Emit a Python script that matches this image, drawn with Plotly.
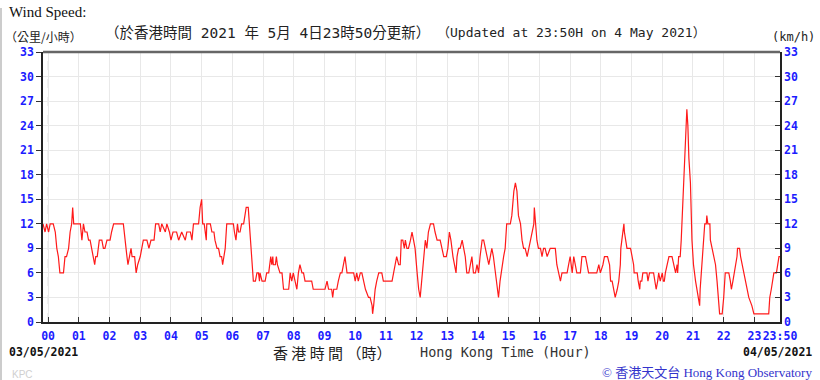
import plotly.graph_objects as go

# ---- data: minutes after 00:00 HKT on 4 May 2021 (negative = 3 May) and 10-min mean wind speed (km/h)
mins_night = [-10, -6, -3, 1, 4, 10, 14, 17, 20, 22, 23, 30, 33, 36, 40, 43, 46, 48, 50, 63,
              66, 69, 72, 76, 79, 82, 85, 89, 91, 93, 96, 100, 105, 108, 111, 115, 121, 124, 128, 147,
              150, 154, 156, 159, 162, 164, 169, 172, 175, 180, 183, 186, 193, 197, 201, 207, 210, 216, 219, 222,
              229, 232, 237, 240, 244, 251, 255, 261, 268, 271, 278, 281, 284, 294]
spd_night = [12, 11, 12, 11, 12, 12, 11, 9, 8, 7, 6, 6, 8, 8, 9, 11, 12, 14, 12, 12,
             10, 12, 11, 11, 10, 10, 9, 8, 7, 8, 8, 10, 10, 9, 9, 10, 10, 11, 12, 12,
             10, 8, 7, 8, 9, 8, 8, 6, 7, 8, 9, 10, 10, 9, 10, 10, 12, 12, 11, 12,
             11, 12, 11, 10, 11, 11, 10, 11, 10, 11, 11, 10, 12, 12]

mins_morning = [297, 300, 302, 305, 309, 310, 317, 320, 324, 326, 330, 333, 336, 339, 341, 344, 346, 349, 362, 364,
                367, 370, 372, 375, 378, 382, 385, 387, 391, 393, 396, 398, 400, 401, 405, 408, 411, 413, 414, 418,
                424, 427, 431, 433, 435, 437, 439, 440, 444, 446, 448, 453, 457, 460, 470, 473, 476, 479, 483, 486,
                489, 492, 496, 499, 502, 515, 518, 541, 545, 548, 554, 556, 558, 564, 567, 571, 574, 577, 580, 584,
                597, 600, 603, 606, 610, 613, 616, 620, 626, 629, 633, 634, 636, 639, 642, 646, 652, 655, 672, 675,
                678, 681, 685]
spd_morning = [14, 15, 12, 12, 10, 12, 12, 11, 11, 10, 9, 9, 8, 8, 7, 8, 9, 12, 12, 11,
               10, 12, 11, 11, 12, 12, 13, 14, 14, 12, 9, 7, 6, 5, 5, 6, 6, 5, 6, 5,
               5, 6, 6, 7, 8, 7, 8, 7, 7, 8, 7, 6, 6, 4, 4, 6, 5, 6, 5, 4,
               6, 7, 6, 6, 5, 5, 4, 4, 5, 4, 4, 3, 4, 4, 5, 6, 6, 7, 8, 6,
               6, 5, 6, 5, 6, 6, 5, 4, 3, 3, 2, 1, 2, 4, 5, 6, 6, 5, 5, 6,
               7, 8, 7]

mins_afternoon = [688, 690, 693, 696, 698, 701, 704, 708, 711, 714, 717, 721, 724, 727, 730, 734, 737, 740, 743, 747,
                  753, 756, 760, 766, 769, 773, 778, 781, 784, 787, 791, 794, 797, 799, 802, 805, 809, 812, 815, 818,
                  822, 825, 828, 831, 835, 838, 841, 844, 848, 851, 854, 857, 861, 864, 867, 870, 874, 877, 880, 883,
                  887, 890, 893, 896, 903, 906, 910, 913, 916, 919, 923, 926, 929, 932, 936, 939, 942, 945, 949, 950,
                  952, 955, 958, 962, 965, 968, 971, 975, 981, 991, 994, 997, 1001, 1004, 1007, 1014, 1017, 1020, 1024, 1027,
                  1030, 1033, 1040, 1043, 1050, 1053, 1056, 1072, 1076]
spd_afternoon = [7, 10, 10, 9, 10, 9, 9, 10, 11, 10, 9, 6, 4, 3, 5, 8, 10, 9, 11, 12,
                 12, 11, 10, 10, 9, 8, 8, 9, 11, 10, 8, 7, 6, 8, 9, 9, 10, 9, 8, 6,
                 6, 7, 8, 6, 6, 7, 6, 8, 10, 10, 9, 8, 7, 8, 9, 8, 6, 4, 3, 5,
                 7, 8, 9, 12, 12, 13, 16, 17, 16, 13, 12, 10, 9, 9, 8, 9, 10, 11, 12, 14,
                 12, 10, 9, 9, 8, 9, 9, 8, 9, 9, 7, 6, 5, 6, 6, 6, 7, 8, 6, 8,
                 7, 6, 6, 8, 8, 7, 6, 6, 7]

mins_evening = [1079, 1084, 1087, 1093, 1097, 1099, 1102, 1105, 1108, 1112, 1115, 1118, 1119, 1121, 1123, 1125, 1126, 1128, 1131, 1138,
                1141, 1144, 1145, 1151, 1153, 1156, 1157, 1160, 1162, 1170, 1172, 1175, 1183, 1186, 1188, 1191, 1193, 1196, 1200, 1202,
                1204, 1206, 1209, 1213, 1219, 1222, 1226, 1229, 1230, 1232, 1235, 1237, 1239, 1241, 1242, 1243, 1245, 1247, 1248, 1250,
                1252, 1255, 1256, 1258, 1260, 1261, 1265, 1268, 1271, 1273, 1274, 1278, 1281, 1283, 1286, 1287, 1289, 1293, 1294, 1297,
                1301, 1304, 1307, 1310, 1312, 1317, 1320, 1323, 1330, 1333, 1335, 1338, 1341, 1343, 1346, 1347, 1351, 1353, 1356, 1359,
                1362, 1366, 1369, 1375, 1379, 1408, 1410, 1413, 1415, 1418, 1423, 1426, 1428, 1430]
spd_evening = [6, 7, 8, 8, 7, 5, 5, 4, 3, 4, 5, 7, 9, 10, 11, 12, 11, 10, 9, 9,
               8, 7, 6, 6, 5, 4, 5, 5, 6, 6, 5, 6, 6, 5, 4, 5, 6, 5, 6, 5,
               5, 6, 7, 8, 8, 7, 6, 7, 6, 8, 8, 10, 13, 16, 17, 20, 23, 25, 26, 24,
               20, 17, 14, 10, 8, 7, 5, 4, 3, 2, 4, 8, 10, 12, 12, 13, 12, 12, 10, 9,
               8, 7, 5, 3, 1, 1, 3, 6, 6, 5, 4, 5, 6, 7, 8, 9, 9, 8, 7, 6,
               5, 4, 3, 2, 1, 1, 3, 4, 5, 6, 6, 7, 8, 8]

hour_ticks = [h * 60 for h in range(24)] + [1430]
hour_labels = ["%02d" % h for h in range(24)] + ["23:50"]
x_range = [-10, 1430]
y_range = [0, 33]

minutes = mins_night + mins_morning + mins_afternoon + mins_evening
speeds = spd_night + spd_morning + spd_afternoon + spd_evening

# ---- geometry helpers (pixel -> paper) for text placement
W, H = 820, 380
L, R, T, B = 43, 40, 52, 58
PW, PH = W - L - R, H - T - B


def px(x):
    return (x - L) / PW


def py(y):
    return (H - B - y) / PH


BLUE = "#1c1cff"
MONO = "DejaVu Sans Mono, Noto Sans CJK TC"
tickfont = dict(family="DejaVu Sans Mono", size=11.5, color=BLUE, weight="bold")

fig = go.Figure()
fig.add_trace(go.Scatter(x=minutes, y=speeds, mode="lines",
                         line=dict(color="#ff1a1a", width=1.2), hoverinfo="skip", showlegend=False))
fig.add_trace(go.Scatter(x=minutes, y=speeds, mode="lines", yaxis="y2",
                         line=dict(color="rgba(0,0,0,0)", width=0), hoverinfo="skip", showlegend=False))

fig.update_layout(
    width=W, height=H,
    margin=dict(l=L, r=R, t=T, b=B, pad=0),
    paper_bgcolor="white", plot_bgcolor="white",
    xaxis=dict(range=x_range, tickmode="array", tickvals=hour_ticks, ticktext=hour_labels,
               showgrid=True, gridcolor="#e8e8e8", gridwidth=1, tickangle=0,
               ticks="inside", ticklen=5, tickcolor="#333", tickwidth=1,
               showline=True, linecolor="#222", linewidth=1.5, zeroline=False,
               tickfont=tickfont, ticklabelstandoff=2),
    yaxis=dict(range=y_range, tickmode="linear", tick0=0, dtick=3,
               showgrid=True, gridcolor="#e8e8e8", gridwidth=1,
               ticks="outside", ticklen=5, tickcolor="#333",
               showline=True, linecolor="#222", linewidth=1.5, zeroline=False,
               tickfont=tickfont),
    yaxis2=dict(range=y_range, tickmode="linear", tick0=0, dtick=3, overlaying="y", side="right",
                showgrid=False, ticks="inside", ticklen=5, tickcolor="#333",
                showline=True, linecolor="#222", linewidth=1.5, zeroline=False,
                tickfont=tickfont),
)

# dashed midnight gridline
fig.add_shape(type="line", xref="x", yref="paper", x0=0, x1=0, y0=0, y1=1,
              line=dict(color="white", width=2), layer="between")
fig.add_shape(type="line", xref="x", yref="paper", x0=0, x1=0, y0=0, y1=1,
              line=dict(color="#d8d8d8", width=1, dash="dash"), layer="between")
# top frame
fig.add_shape(type="line", xref="paper", yref="paper", x0=0, x1=1, y0=1, y1=1,
              line=dict(color="#666", width=2.5), layer="above")
# page left border
fig.add_shape(type="line", xref="paper", yref="paper", x0=px(1), x1=px(1), y0=py(8), y1=py(380),
              line=dict(color="#999", width=1))


def note(text, x, y, xanchor="left", size=13, family=MONO, color="#222", weight="normal"):
    fig.add_annotation(text=text, xref="paper", yref="paper", x=px(x), y=py(y),
                       xanchor=xanchor, yanchor="middle", showarrow=False, borderpad=0,
                       font=dict(family=family, size=size, color=color, weight=weight))


note("Wind Speed:", 8, 12, size=15, family="Liberation Serif", color="#111")
note("（公里/小時）", 4, 36.5, size=12, family="Noto Sans CJK TC")
note("（於香港時間 2021 年 5月 4日23時50分更新）", 104, 33, size=14.5)
note("（Updated at 23:50H on 4 May 2021）", 707, 33, xanchor="right", size=13)
note("(km/h)", 816, 37, xanchor="right", size=12)
note("03/05/2021", 8, 352, size=11.5, family="DejaVu Sans Mono", color="#111", weight="bold")
note("04/05/2021", 813, 352, xanchor="right", size=11.5, family="DejaVu Sans Mono", color="#111", weight="bold")
note("香 港 時 間 （時）", 272, 352, size=15, family="Noto Sans CJK TC", color="#222")
note("Hong Kong Time (Hour)", 419, 352, size=13.5, family="DejaVu Sans Mono", color="#333")
note("KPC", 11, 374, size=10, family="Liberation Sans", color="#d0d0d0")
note("© 香港天文台 Hong Kong Observatory", 813, 372, xanchor="right", size=13,
     family="Liberation Serif, Noto Sans CJK TC", color="#3333cc")

fig.write_html("out.html", config={"displayModeBar": False},
               post_script="document.body.style.margin='0px';")
